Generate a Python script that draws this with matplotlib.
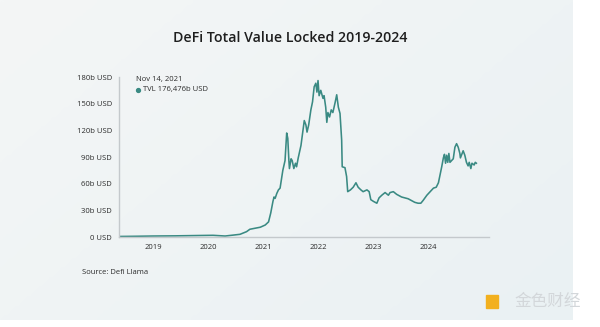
"""DeFi total value locked, 2019-2024, styled after a Defi Llama chart."""

import matplotlib

matplotlib.use("Agg")
import matplotlib.pyplot as plt
import numpy as np
from matplotlib.patches import Rectangle

# Decimal year / TVL in billions USD
years = [
    2018.38, 2018.67, 2019.00, 2019.40, 2019.85, 2020.09, 2020.31, 2020.58,
    2020.70, 2020.76, 2020.85, 2020.95, 2021.04, 2021.10, 2021.14, 2021.18,
    2021.20, 2021.22, 2021.25, 2021.28, 2021.31, 2021.36, 2021.40, 2021.43,
    2021.45, 2021.47, 2021.48, 2021.51, 2021.53, 2021.56, 2021.59, 2021.61,
    2021.64, 2021.69, 2021.72, 2021.75, 2021.78, 2021.80, 2021.83, 2021.87,
    2021.90, 2021.93, 2021.96, 2021.98, 2022.00, 2022.02, 2022.05, 2022.09,
    2022.11, 2022.14, 2022.16, 2022.18, 2022.21, 2022.24, 2022.27, 2022.31,
    2022.34, 2022.37, 2022.40, 2022.43, 2022.44, 2022.49, 2022.52, 2022.54,
    2022.59, 2022.64, 2022.69, 2022.73, 2022.78, 2022.82, 2022.89, 2022.93,
    2022.96, 2023.01, 2023.07, 2023.11, 2023.16, 2023.22, 2023.28, 2023.31,
    2023.37, 2023.43, 2023.52, 2023.58, 2023.64, 2023.70, 2023.76, 2023.82,
    2023.87, 2023.91, 2023.98, 2024.04, 2024.10, 2024.15, 2024.19, 2024.22,
    2024.25, 2024.28, 2024.30, 2024.32, 2024.34, 2024.36, 2024.38, 2024.40,
    2024.43, 2024.46, 2024.49, 2024.52, 2024.55, 2024.58, 2024.59, 2024.64,
    2024.67, 2024.70, 2024.73, 2024.75, 2024.78, 2024.80, 2024.84, 2024.86,
    2024.88,
]
tvl = [
    0.6, 0.8, 1.1, 1.3, 1.7, 1.9, 1.1, 3,
    6, 8.7, 9.8, 11, 13.5, 17, 27, 40,
    45, 43.5, 49, 53, 55, 75, 86, 117,
    111, 86, 77, 88, 86, 77, 83, 79,
    89, 103, 117, 131, 126, 118, 126, 143,
    152, 169, 173, 163, 176, 159, 165, 156,
    159, 146, 129, 140, 135, 143, 140, 151,
    160, 146, 139, 109, 79, 78, 68, 51,
    53, 56, 61, 56, 53, 51, 53, 51,
    42, 40, 38, 44, 47, 50, 47, 50,
    51, 48, 45, 44, 43, 41, 39, 38,
    38, 41, 47, 51, 55, 56, 61, 70,
    79, 89, 93, 83, 92, 84, 94, 84,
    86, 88, 101, 105, 101, 94, 89, 97,
    92, 84, 80, 84, 77, 83, 81, 84,
    83,
]
year_ticks = [2019, 2020, 2021, 2022, 2023, 2024]
value_ticks = [0, 30, 60, 90, 120, 150, 180]
value_labels = ["0 USD", "30b USD", "60b USD", "90b USD", "120b USD", "150b USD", "180b USD"]

TEAL = "#3a8a83"
DARK = "#2b2b2b"
SPINE = "#c4c9cc"

plt.rcParams["font.family"] = ["Open Sans", "DejaVu Sans"]

fig = plt.figure(figsize=(6.0, 3.27), dpi=100)
fig.patch.set_facecolor("white")

# Light gradient panel behind everything (white margin at right and bottom)
bg = fig.add_axes([0, 7 / 327, 573 / 600, 1 - 7 / 327], zorder=-10)
gx, gy = np.meshgrid(np.linspace(0, 1, 200), np.linspace(0, 1, 100))
grad = 0.6 * gx + 0.4 * gy
bg.imshow(grad, cmap=matplotlib.colors.LinearSegmentedColormap.from_list(
    "bg", ["#f4f6f6", "#eaf1f3"]), aspect="auto", extent=[0, 1, 0, 1])
bg.axis("off")

ax = fig.add_axes([119 / 600, 90 / 327, 370 / 600, 160 / 327])
ax.set_facecolor("none")
ax.plot(years, tvl, color=TEAL, linewidth=1.15, solid_joinstyle="round")

ax.set_xlim(2018.38, 2025.11)
ax.set_ylim(0, 180)
ax.set_xticks(year_ticks)
ax.set_xticklabels([str(y) for y in year_ticks])
ax.set_yticks(value_ticks)
ax.set_yticklabels(value_labels)
ax.tick_params(length=0, labelsize=5.5, colors=DARK, pad=5)

for side in ["top", "right"]:
    ax.spines[side].set_visible(False)
for side in ["left", "bottom"]:
    ax.spines[side].set_color(SPINE)
    ax.spines[side].set_linewidth(1.0)

# Tooltip for the peak
ax.text(0.046, 0.985, "Nov 14, 2021", transform=ax.transAxes, fontsize=5.5,
        color=DARK, va="center", ha="left")
ax.plot([0.052], [0.92], marker="o", markersize=2.8, color=TEAL,
        transform=ax.transAxes, clip_on=False)
ax.text(0.065, 0.92, "TVL 176,476b USD", transform=ax.transAxes, fontsize=5.5,
        color=DARK, va="center", ha="left")

fig.text(290 / 600, 1 - 38 / 327, "DeFi Total Value Locked 2019-2024",
         fontsize=10.2, fontweight="semibold", color="#1e1e1e",
         ha="center", va="center")
fig.text(82 / 600, 1 - 273 / 327, "Source: Defi Llama", fontsize=5.5,
         color=DARK, ha="left", va="center")

# Watermark
fig.patches.append(Rectangle((486 / 600, 1 - 308 / 327), 12 / 600, 13 / 327,
                             transform=fig.transFigure, color="#f2b01e",
                             zorder=5))
fig.text(548 / 600, 1 - 301 / 327, "金色财经", fontsize=12,
         family=["Noto Sans CJK SC", "DejaVu Sans"], color="#d3d7da",
         ha="center", va="center")

fig.savefig("out.png", dpi=100, facecolor=fig.get_facecolor())
